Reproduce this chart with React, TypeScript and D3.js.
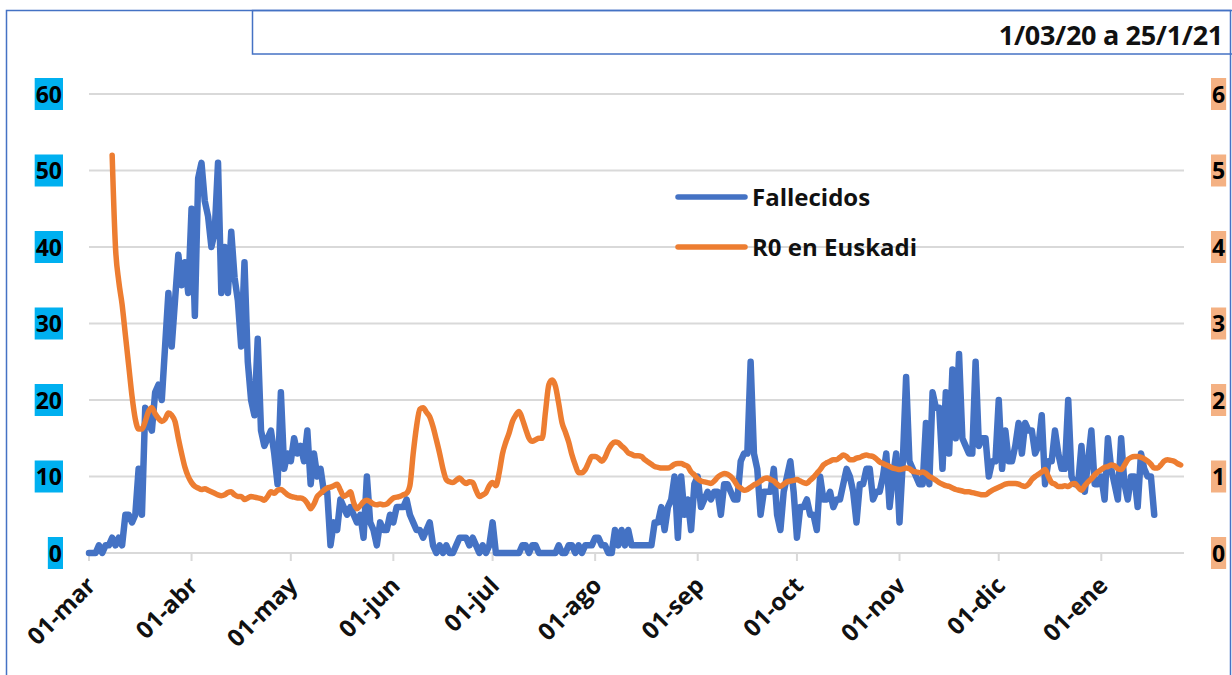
import React, { useEffect, useRef } from 'react';
import * as d3 from 'd3';

// Daily deaths (Fallecidos), starting 2020-03-01
const deathsStart = '2020-03-01';
const deaths = [
  0, 0, 0, 1, 0, 1, 1, 2, 1, 2,
  1, 5, 5, 4, 5, 11, 5, 19, 17, 16,
  21, 22, 20, 27, 34, 27, 33, 39, 35, 38,
  34, 45, 31, 49, 51, 46, 44, 40, 42, 51,
  34, 40, 34, 42, 36, 33, 27, 38, 25, 20,
  18, 28, 16, 14, 15, 16, 13, 9, 21, 11,
  13, 12, 15, 13, 14, 12, 16, 9, 13, 10,
  11, 8, 8, 1, 4, 3, 7, 6, 5, 6,
  5, 4, 5, 2, 10, 4, 3, 1, 4, 3,
  3, 5, 4, 6, 6, 6, 7, 5, 4, 3,
  3, 2, 3, 4, 1, 0, 1, 0, 1, 0,
  0, 1, 2, 2, 2, 1, 2, 1, 0, 1,
  0, 1, 4, 0, 0, 0, 0, 0, 0, 0,
  0, 1, 1, 0, 1, 1, 0, 0, 0, 0,
  0, 0, 1, 0, 0, 1, 1, 0, 1, 0,
  1, 1, 1, 2, 2, 1, 1, 0, 0, 3,
  1, 3, 1, 3, 1, 1, 1, 1, 1, 1,
  1, 4, 4, 6, 3, 6, 7, 10, 2, 10,
  5, 7, 3, 9, 10, 6, 7, 8, 7, 8,
  8, 5, 9, 9, 8, 7, 7, 12, 13, 13,
  25, 13, 11, 5, 8, 8, 8, 11, 5, 3,
  8, 10, 12, 8, 2, 6, 6, 7, 5, 5,
  3, 10, 7, 7, 8, 6, 7, 7, 9, 11,
  10, 8, 4, 9, 9, 11, 11, 7, 8, 8,
  10, 13, 6, 10, 13, 4, 12, 23, 12, 11,
  10, 9, 9, 17, 9, 21, 19, 19, 11, 21,
  13, 24, 15, 26, 15, 14, 13, 13, 25, 14,
  15, 15, 10, 12, 12, 20, 11, 16, 12, 12,
  14, 17, 13, 17, 16, 16, 13, 14, 18, 9,
  12, 12, 16, 13, 11, 11, 20, 10, 9, 9,
  14, 8, 12, 16, 9, 9, 10, 7, 15, 11,
  9, 7, 15, 9, 7, 10, 10, 6, 13, 11,
  10, 10, 5,
];

// Daily R0 in Euskadi, starting 2020-03-08
const r0Start = '2020-03-08';
const r0Values = [
  5.2,
  4.0, 3.55, 3.25, 2.85, 2.45, 2.05, 1.75, 1.62, 1.62, 1.72,
  1.85, 1.9, 1.82, 1.76, 1.72, 1.75, 1.83, 1.8, 1.72, 1.5,
  1.3, 1.12, 1.0, 0.92, 0.87, 0.85, 0.83, 0.84, 0.82, 0.8,
  0.78, 0.76, 0.75, 0.76, 0.79, 0.8, 0.76, 0.74, 0.74, 0.7,
  0.72, 0.74, 0.73, 0.72, 0.71, 0.69, 0.74, 0.8, 0.78, 0.82,
  0.83, 0.8, 0.76, 0.74, 0.73, 0.72, 0.72, 0.7, 0.65, 0.58,
  0.64, 0.74, 0.78, 0.82, 0.85, 0.86, 0.88, 0.9, 0.82, 0.74,
  0.76, 0.8, 0.66, 0.58, 0.62, 0.67, 0.69, 0.67, 0.64, 0.63,
  0.64, 0.63, 0.64, 0.68, 0.72, 0.73, 0.74, 0.76, 0.78, 0.88,
  1.3, 1.65, 1.88, 1.9, 1.84, 1.78, 1.65, 1.48, 1.3, 1.1,
  0.96, 0.93, 0.92, 0.95, 0.98, 0.94, 0.91, 0.93, 0.92, 0.82,
  0.74, 0.76, 0.79, 0.88, 0.92, 0.88, 1.05, 1.3, 1.45, 1.57,
  1.72, 1.8, 1.85, 1.75, 1.62, 1.5, 1.46, 1.48, 1.5, 1.5,
  1.85, 2.2, 2.26, 2.18, 1.95, 1.7, 1.58, 1.45, 1.28, 1.15,
  1.05, 1.05, 1.09, 1.18, 1.26, 1.26, 1.24, 1.2, 1.25, 1.35,
  1.42, 1.45, 1.44, 1.4, 1.36, 1.31, 1.29, 1.27, 1.27, 1.26,
  1.22, 1.19, 1.16, 1.13, 1.12, 1.11, 1.11, 1.11, 1.13, 1.16,
  1.17, 1.17, 1.15, 1.13, 1.06, 1.02, 0.97, 0.94, 0.93, 0.92,
  0.91, 0.94, 0.99, 1.02, 1.04, 1.03, 1.0, 0.95, 0.88, 0.85,
  0.82, 0.83, 0.86, 0.89, 0.91, 0.94, 0.97, 0.98, 0.96, 0.94,
  0.9, 0.87, 0.9, 0.93, 0.94, 0.95, 0.96, 0.94, 0.92, 0.91,
  0.95, 0.99, 1.04, 1.09, 1.15, 1.18, 1.2, 1.22, 1.22, 1.25,
  1.28, 1.26, 1.22, 1.22, 1.24, 1.25, 1.27, 1.28, 1.27, 1.26,
  1.23, 1.19, 1.17, 1.15, 1.13, 1.11, 1.1, 1.09, 1.1, 1.11,
  1.1, 1.07, 1.06, 1.05, 1.06, 1.04, 1.0, 0.98, 0.95, 0.92,
  0.9, 0.88, 0.87, 0.85, 0.83, 0.82, 0.81, 0.8, 0.8, 0.79,
  0.78, 0.77, 0.76, 0.76, 0.79, 0.82, 0.84, 0.86, 0.88, 0.9,
  0.91, 0.91, 0.91, 0.9, 0.88, 0.87, 0.9, 0.96, 1.0, 1.03,
  1.06, 1.09, 1.0, 0.92, 0.9, 0.87, 0.87, 0.88, 0.87, 0.9,
  0.91, 0.86, 0.82, 0.88, 0.93, 0.97, 1.02, 1.06, 1.09, 1.12,
  1.13, 1.15, 1.14, 1.1, 1.09, 1.15, 1.22, 1.25, 1.26, 1.26,
  1.25, 1.23, 1.2, 1.16, 1.11, 1.11, 1.15, 1.2, 1.22, 1.21,
  1.2, 1.17, 1.15,
];

const xDomain = ['2020-03-01', '2021-01-26'];
const leftTicks = [0, 10, 20, 30, 40, 50, 60];
const rightTicks = [0, 1, 2, 3, 4, 5, 6];
const monthTicks = [
  '2020-03-01', '2020-04-01', '2020-05-01', '2020-06-01', '2020-07-01', '2020-08-01',
  '2020-09-01', '2020-10-01', '2020-11-01', '2020-12-01', '2021-01-01',
];
const monthLabels = ['01-mar', '01-abr', '01-may', '01-jun', '01-jul', '01-ago', '01-sep', '01-oct', '01-nov', '01-dic', '01-ene'];
const seriesNames = ['Fallecidos', 'R0 en Euskadi'];
const titleText = '1/03/20 a 25/1/21';

const BLUE = '#4472C4';
const ORANGE = '#ED7D31';
const FONT = '"Open Sans", "Liberation Sans", sans-serif';

export default function App() {
  const ref = useRef<SVGSVGElement>(null);

  useEffect(() => {
    const svg = d3.select(ref.current);
    svg.selectAll('*').remove();
    const parse = d3.utcParse('%Y-%m-%d');

    const x = d3.scaleUtc()
      .domain([parse(xDomain[0])!, parse(xDomain[1])!])
      .range([89, 1184]);
    const yL = d3.scaleLinear().domain([0, 60]).range([553, 94]);
    const yR = d3.scaleLinear().domain([0, 6]).range([553, 94]);

    // frame
    svg.append('rect').attr('x', 6.5).attr('y', 10.5).attr('width', 1224).attr('height', 720)
      .attr('fill', 'white').attr('stroke', BLUE).attr('stroke-width', 1.5);
    svg.append('rect').attr('x', 252.5).attr('y', 10.5).attr('width', 990).attr('height', 43.5)
      .attr('fill', 'none').attr('stroke', BLUE).attr('stroke-width', 1.5);
    svg.append('text').attr('x', 1223).attr('y', 45).attr('text-anchor', 'end')
      .attr('font-family', FONT).attr('font-weight', 700).attr('font-size', 27).attr('fill', '#111')
      .attr('letter-spacing', -0.3)
      .text(titleText);

    // gridlines
    const g = svg.append('g');
    g.selectAll('line.grid').data(leftTicks).enter().append('line')
      .attr('x1', 89).attr('x2', 1184)
      .attr('y1', (d) => yL(d)).attr('y2', (d) => yL(d))
      .attr('stroke', '#D9D9D9').attr('stroke-width', 2);

    // month ticks
    const tickDates = monthTicks.map((d) => parse(d)!);
    g.selectAll('line.tick').data(tickDates).enter().append('line')
      .attr('x1', (d) => x(d)).attr('x2', (d) => x(d))
      .attr('y1', 553).attr('y2', 561)
      .attr('stroke', '#D9D9D9').attr('stroke-width', 2);

    // left axis labels with cyan highlight
    leftTicks.forEach((t) => {
      const yy = yL(t);
      const txt = svg.append('text').attr('x', 62).attr('y', yy + 8.5).attr('text-anchor', 'end')
        .attr('font-family', FONT).attr('font-weight', 700).attr('font-size', 23).attr('fill', '#000')
        .text(String(t));
      const bb = (txt.node() as SVGTextElement).getBBox();
      svg.insert('rect', () => txt.node() as any)
        .attr('x', bb.x - 1).attr('y', yy - 16).attr('width', bb.width + 2).attr('height', 32)
        .attr('fill', '#00B0F0');
    });

    // right axis labels with peach highlight
    rightTicks.forEach((t) => {
      const yy = yR(t);
      const txt = svg.append('text').attr('x', 1212).attr('y', yy + 8.5).attr('text-anchor', 'start')
        .attr('font-family', FONT).attr('font-weight', 700).attr('font-size', 23).attr('fill', '#000')
        .text(String(t));
      const bb = (txt.node() as SVGTextElement).getBBox();
      svg.insert('rect', () => txt.node() as any)
        .attr('x', bb.x - 1).attr('y', yy - 16).attr('width', bb.width + 2).attr('height', 32)
        .attr('fill', '#F4B183');
    });

    // x labels
    tickDates.forEach((d, i) => {
      const px = x(d) + 8;
      const py = 587;
      svg.append('text').attr('transform', `translate(${px},${py}) rotate(-45)`)
        .attr('text-anchor', 'end')
        .attr('font-family', FONT).attr('font-weight', 700).attr('font-size', 24).attr('fill', '#111')
        .text(monthLabels[i]);
    });

    // series
    const d0 = parse(deathsStart)!;
    const deathsData = deaths.map((v, i) => ({ date: d3.utcDay.offset(d0, i), v }));
    const r0d = parse(r0Start)!;
    const r0Data = r0Values.map((v, i) => ({ date: d3.utcDay.offset(r0d, i), v }));

    const lineL = d3.line<{ date: Date; v: number }>().x((d) => x(d.date)).y((d) => yL(d.v));
    const lineR = d3.line<{ date: Date; v: number }>().x((d) => x(d.date)).y((d) => yR(d.v))
      .curve(d3.curveMonotoneX);

    svg.append('path').datum(deathsData).attr('d', lineL).attr('fill', 'none')
      .attr('stroke', BLUE).attr('stroke-width', 6.5).attr('stroke-linejoin', 'round').attr('stroke-linecap', 'round');
    svg.append('path').datum(r0Data).attr('d', lineR).attr('fill', 'none')
      .attr('stroke', ORANGE).attr('stroke-width', 5.5).attr('stroke-linejoin', 'round').attr('stroke-linecap', 'round');

    // legend
    const colors = [BLUE, ORANGE];
    seriesNames.forEach((name, i) => {
      const ly = 197 + i * 50;
      svg.append('line').attr('x1', 678).attr('x2', 745).attr('y1', ly).attr('y2', ly)
        .attr('stroke', colors[i]).attr('stroke-width', 5.5).attr('stroke-linecap', 'round');
      svg.append('text').attr('x', 752).attr('y', ly + 8.5)
        .attr('font-family', FONT).attr('font-weight', 700).attr('font-size', 24).attr('fill', '#111')
        .text(name);
    });
  }, []);

  return (
    <svg
      ref={ref}
      width={1232}
      height={675}
      style={{ position: 'absolute', left: 0, top: 0, background: '#fff' }}
    />
  );
}
